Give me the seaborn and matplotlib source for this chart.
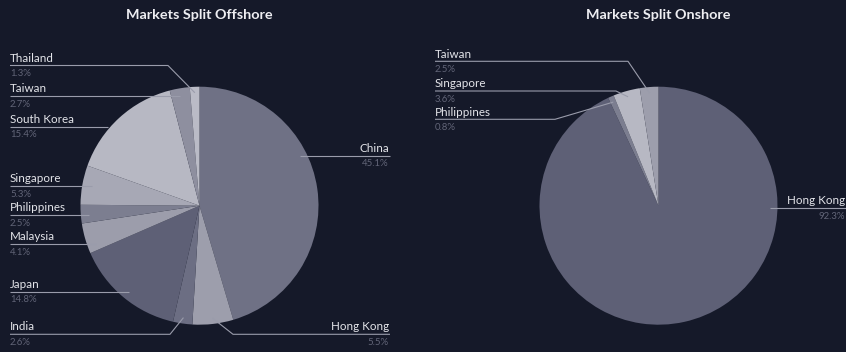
import numpy as np
import matplotlib
matplotlib.use("Agg")
import matplotlib.pyplot as plt
import seaborn as sns

# ---- data -------------------------------------------------------------
offshore_markets = ["China", "Hong Kong", "India", "Japan", "Malaysia",
                    "Philippines", "Singapore", "South Korea", "Taiwan", "Thailand"]
offshore_share = [45.1, 5.5, 2.6, 14.8, 4.1, 2.5, 5.3, 15.4, 2.7, 1.3]

onshore_markets = ["Hong Kong", "Philippines", "Singapore", "Taiwan"]
onshore_share = [92.3, 0.8, 3.6, 2.5]

titles = ["Markets Split Offshore", "Markets Split Onshore"]

# ---- styling ----------------------------------------------------------
BG = "#151929"
NAME_C = "#e4e5ea"
PCT_C = "#626578"
LINE_C = "#9a9cab"

offshore_colors = ["#6f7185", "#9d9eac", "#6c6e83", "#5e6076", "#9c9dab",
                   "#7c7e90", "#a7a8b5", "#b7b8c3", "#8e8f9f", "#babbc6"]
onshore_colors = ["#5e6076", "#7c7e90", "#b7b8c3", "#9d9eac"]

sns.set_theme(style="dark", rc={"figure.facecolor": BG, "axes.facecolor": BG,
                                "savefig.facecolor": BG})
plt.rcParams["font.family"] = ["Lato", "DejaVu Sans"]

W, H = 846, 352
fig = plt.figure(figsize=(W / 100, H / 100), dpi=100)
ax = fig.add_axes([0, 0, 1, 1])

R = 119
centers = [(199.5, H - 205.7), (658.5, H - 205.7)]


def draw_pie(values, colors, center):
    wedges, _ = ax.pie(values, colors=colors, startangle=90, counterclock=False,
                       center=center, radius=R,
                       wedgeprops=dict(linewidth=0, antialiased=True))
    return wedges


def edge_point(wedge, frac=0.95):
    mid = np.deg2rad((wedge.theta1 + wedge.theta2) / 2)
    cx, cy = wedge.center
    return cx + frac * R * np.cos(mid), cy + frac * R * np.sin(mid)


# label layout: (line y from top, horizontal end x, side, crook to slice?)
offshore_layout = {
    "Thailand":    (65.5, 168, "left", True),
    "Taiwan":      (96.3, 180, "left", False),
    "South Korea": (126.7, 108, "left", False),
    "Singapore":   (186.3, 92, "left", False),
    "Philippines": (215.0, 89, "left", False),
    "Malaysia":    (244.3, 96, "left", False),
    "Japan":       (291.5, 129, "left", False),
    "India":       (334.3, 170, "left", True),
    "China":       (155.7, 300, "right", False),
    "Hong Kong":   (334.3, 233, "right", True),
}
onshore_layout = {
    "Taiwan":      (61.3, 628, "left", True),
    "Singapore":   (91.0, 616, "left", True),
    "Philippines": (119.3, 555, "left", True),
    "Hong Kong":   (208.3, 770, "right", False),
}


def draw_labels(wedges, names, values, layout, left_x, right_x):
    for w, name, val in zip(wedges, names, values):
        ly, ex, side, crook = layout[name]
        y = H - ly
        if side == "left":
            xs, ys = [left_x, ex], [y, y]
            tx, ha = left_x, "left"
        else:
            xs, ys = [right_x, ex], [y, y]
            tx, ha = right_x - 1, "right"
        if crook:
            px, py = edge_point(w)
            xs.append(px)
            ys.append(py)
        ax.plot(xs, ys, color=LINE_C, lw=0.8, solid_capstyle="butt", zorder=5)
        ax.text(tx, y + 3.8, name, ha=ha, va="baseline", color=NAME_C,
                fontsize=8.4, zorder=6)
        ax.text(tx, y - 10.5, f"{val}%", ha=ha, va="baseline", color=PCT_C,
                fontsize=6.9, zorder=6)


w_off = draw_pie(offshore_share, offshore_colors, centers[0])
w_on = draw_pie(onshore_share, onshore_colors, centers[1])

draw_labels(w_off, offshore_markets, offshore_share, offshore_layout, 10, 390)
draw_labels(w_on, onshore_markets, onshore_share, onshore_layout, 435, 846)

for (cx, _), t in zip(centers, titles):
    ax.text(cx, H - 19, t, ha="center", va="baseline", color="#eeeef2",
            fontsize=10.4, fontweight="bold")

ax.set_xlim(0, W)
ax.set_ylim(0, H)
ax.set_aspect("equal")
ax.axis("off")

fig.savefig("out.png", dpi=100, facecolor=BG)
